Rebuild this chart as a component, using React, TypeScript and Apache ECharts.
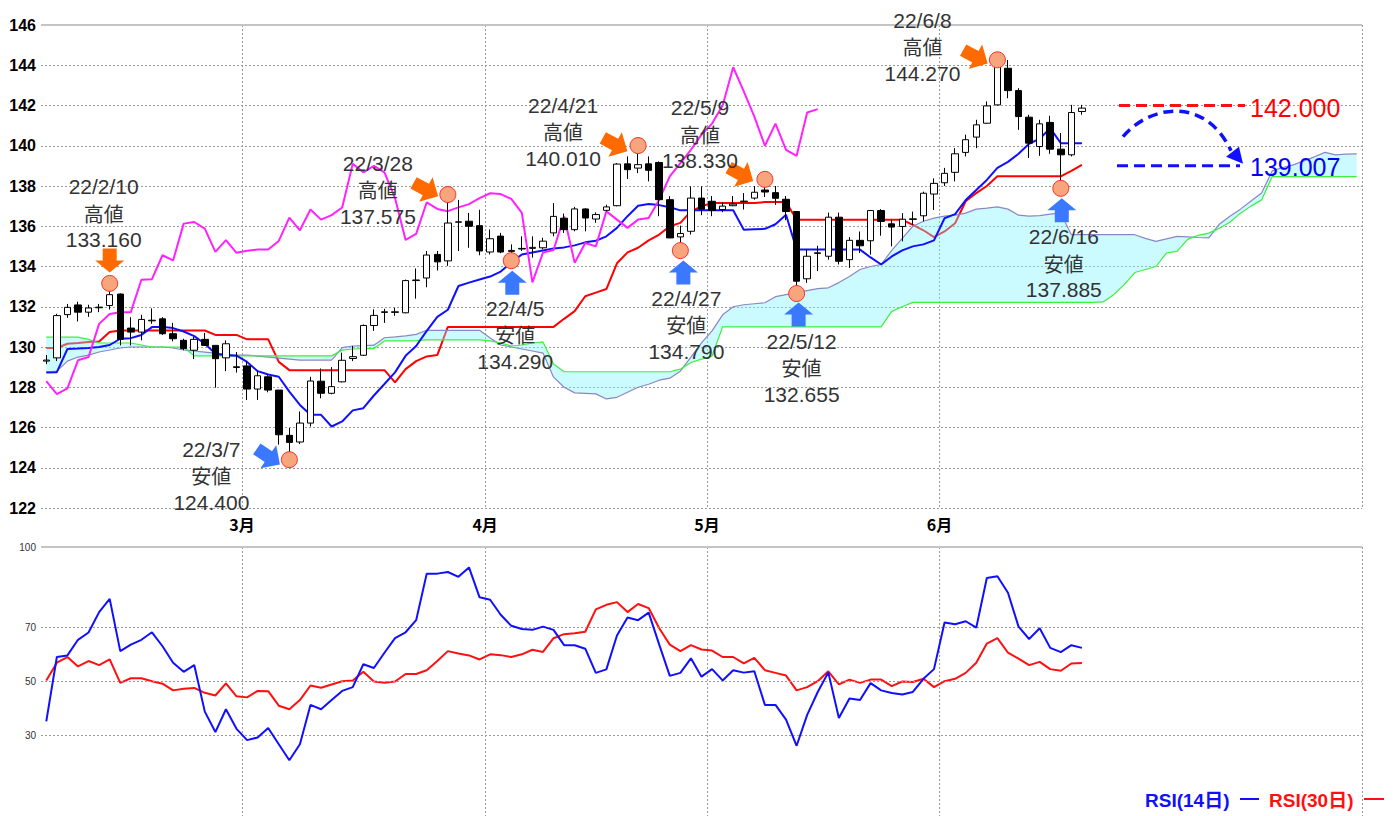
import React, { useEffect, useRef } from 'react';
import * as echarts from 'echarts';

// ---------- categories ----------
const dates = [
  '2/2','2/3','2/4','2/7','2/8','2/9','2/10','2/11','2/14','2/15','2/16','2/17','2/18','2/21','2/22','2/23','2/24','2/25','2/28',
  '3/1','3/2','3/3','3/4','3/7','3/8','3/9','3/10','3/11','3/14','3/15','3/16','3/17','3/18','3/21','3/22','3/23','3/24','3/25','3/28','3/29','3/30','3/31',
  '4/1','4/4','4/5','4/6','4/7','4/8','4/11','4/12','4/13','4/14','4/15','4/18','4/19','4/20','4/21','4/22','4/25','4/26','4/27','4/28','4/29',
  '5/2','5/3','5/4','5/5','5/6','5/9','5/10','5/11','5/12','5/13','5/16','5/17','5/18','5/19','5/20','5/23','5/24','5/25','5/26','5/27','5/30','5/31',
  '6/1','6/2','6/3','6/6','6/7','6/8','6/9','6/10','6/13','6/14','6/15','6/16','6/17','6/20',
];
const futureDates = [
  '6/21','6/22','6/23','6/24','6/27','6/28','6/29','6/30','7/1','7/4','7/5','7/6','7/7','7/8',
  '7/11','7/12','7/13','7/14','7/15','7/18','7/19','7/20','7/21','7/22','7/25','7/26',
];
const monthTicks = ['3/1', '4/1', '5/2', '6/1'];
const monthLabels = ['3月', '4月', '5月', '6月'];
const priceMin = 122;
const priceMax = 146;
const priceStep = 2;
const rsiTicks = [30, 50, 70, 100];

// ---------- candles: [open, close, low, high] ----------
const candles = [
  [129.3,129.35,129.15,129.6],[129.46,131.56,129.3,131.65],[131.61,131.97,131.45,132.14],[132.09,131.73,131.27,132.25],
  [131.73,131.94,131.5,132.1],[131.95,131.98,131.73,132.14],[132.06,132.6,131.86,133.16],[132.63,130.38,130.08,132.66],
  [130.94,130.74,130.08,131.48],[130.74,131.37,130.33,131.6],[131.3,131.33,131.15,131.92],[131.4,130.66,130.6,131.48],
  [130.66,130.41,130.28,131.2],[130.33,129.92,129.84,130.41],[129.84,130.38,129.4,130.5],[130.38,130.08,130.05,130.7],
  [130.08,129.42,127.98,130.1],[129.46,130.16,128.8,130.33],[128.98,129.02,128.73,129.75],
  [129.06,127.91,127.37,129.29],[127.91,128.57,127.37,128.8],[128.52,127.86,127.75,128.6],[127.86,125.64,125.15,127.86],
  [125.61,125.26,124.4,125.97],[125.28,126.22,125.18,126.8],[126.22,128.31,126.05,128.52],[128.3,127.7,127.45,128.93],
  [127.7,128.03,127.65,129.0],[128.27,129.34,128.24,129.72],[129.43,129.52,129.3,130.05],[129.59,131.07,129.56,131.12],
  [131.07,131.57,130.8,131.87],[131.72,131.75,131.2,131.9],[131.72,131.75,131.55,131.95],[131.7,133.3,131.68,133.35],
  [133.3,133.33,132.4,133.9],[133.43,134.57,132.97,134.77],[134.6,134.23,133.8,134.77],[134.28,136.16,134.03,137.575],
  [136.2,136.22,134.77,137.31],[136.25,136.0,134.93,136.66],[136.03,134.77,134.56,136.82],
  [134.72,135.38,134.6,135.84],[135.51,134.72,134.66,135.67],[134.75,134.8,134.29,135.1],[134.87,134.9,134.77,135.5],
  [134.9,134.95,134.44,135.5],[134.93,135.26,134.85,135.43],[135.67,136.49,135.5,137.15],[136.4,135.83,135.67,136.63],
  [135.83,136.86,135.75,136.96],[136.86,136.41,135.75,136.9],[136.36,136.58,136.17,136.69],[136.79,136.96,136.74,137.07],
  [137.02,139.09,136.99,139.14],[139.1,138.81,138.35,139.47],[138.89,139.06,138.64,140.01],[139.1,138.78,138.23,139.47],
  [139.17,137.32,136.5,139.22],[137.32,135.42,135.42,137.49],[135.47,135.64,134.79,136.03],[135.75,137.4,135.59,137.98],
  [137.4,136.85,136.55,137.98],
  [137.24,136.79,136.5,137.5],[136.83,137.0,136.7,137.2],[137.02,137.1,137.0,137.5],[137.22,137.25,136.83,137.65],
  [137.4,137.69,137.32,138.0],[137.8,137.7,137.45,138.33],[137.67,137.39,137.06,138.0],[137.34,136.73,136.3,137.5],
  [136.73,133.27,132.655,136.75],[133.39,134.51,133.19,134.84],[134.65,134.68,133.77,135.03],[134.51,136.45,134.34,136.68],
  [136.45,134.26,134.1,136.68],[134.34,135.3,133.93,135.46],[135.3,135.03,134.67,135.74],[135.28,136.78,134.59,136.81],
  [136.78,136.24,135.53,136.85],[136.12,135.96,135.0,136.32],[135.99,136.35,135.25,136.65],[136.34,136.37,136.07,136.73],
  [136.52,137.64,136.24,137.72],[137.6,138.13,136.81,138.38],
  [138.16,138.63,138.0,138.9],[138.68,139.6,138.23,139.88],[139.67,140.3,139.47,140.55],[140.43,141.04,139.88,141.29],
  [141.12,141.98,141.1,142.2],[142.03,144.1,142.0,144.27],[143.85,142.74,142.36,144.26],[142.74,141.45,140.79,142.86],
  [141.42,140.13,139.39,141.54],[139.96,141.09,139.5,141.29],[141.16,139.83,139.6,141.49],[139.83,139.55,137.885,140.63],
  [139.55,141.65,139.47,142.03],[141.7,141.87,141.54,142.03],
];

// ---------- ichimoku lines ----------
const tenkan = [
  128.73,128.75,129.9,129.92,129.95,130.0,130.1,130.41,130.44,130.6,
  130.99,131.0,130.94,130.77,130.54,130.16,129.67,129.59,129.57,129.26,
  128.8,128.63,128.52,127.78,127.12,126.63,126.63,126.05,126.3,126.85,
  126.96,127.59,128.16,128.74,129.56,130.05,130.8,131.5,131.85,133.03,
  133.2,133.35,133.5,133.75,134.2,134.6,134.7,134.8,134.9,134.95,
  135.05,135.2,135.28,135.5,135.92,136.5,137.02,137.1,137.05,136.94,
  136.79,136.79,136.79,136.79,136.79,136.79,135.83,135.85,135.87,136.1,
  136.57,134.84,134.84,134.84,134.84,134.84,134.84,134.84,134.45,134.1,
  134.5,134.8,135.0,135.1,135.3,136.4,136.6,137.3,137.8,138.3,
  138.9,139.2,139.6,140.1,140.35,140.87,140.13,140.13,140.13,
];
const kijun = [
  129.95,129.95,130.16,130.2,130.25,130.27,130.74,130.82,130.82,130.82,
  130.82,130.82,130.82,130.82,130.82,130.82,130.6,130.6,130.6,130.38,
  130.38,130.38,129.26,128.85,128.85,128.85,128.85,128.85,128.85,128.85,
  128.85,128.85,128.85,128.24,128.9,129.3,129.53,129.6,131.0,131.0,
  131.0,131.0,131.0,131.0,131.0,131.0,131.0,131.0,131.0,131.4,
  131.78,132.52,132.7,132.88,134.16,134.7,134.93,135.3,135.59,136.0,
  136.17,136.74,136.99,137.16,137.16,137.16,137.16,137.16,137.2,137.2,
  137.2,136.32,136.32,136.32,136.32,136.32,136.32,136.32,136.32,136.32,
  136.32,136.32,136.07,135.8,135.46,135.74,136.15,137.24,137.65,138.0,
  138.48,138.48,138.48,138.48,138.48,138.48,138.48,138.75,139.05,
];
const chikou = [
  128.3,127.66,127.94,129.34,129.5,131.15,131.64,131.73,131.73,133.34,
  133.37,134.56,134.3,136.13,136.21,135.88,134.73,135.31,134.68,134.78,
  134.84,134.84,135.27,136.43,135.8,136.83,136.33,136.55,136.93,139.1,
  138.68,139.0,138.68,137.4,135.32,135.62,137.19,136.86,136.75,136.94,
  137.1,137.4,137.64,137.6,137.36,136.66,133.21,134.69,134.82,136.49,
  134.18,135.17,135.0,136.74,136.33,135.92,136.33,136.41,137.32,138.48,
  139.14,139.8,140.55,141.1,142.0,143.9,142.7,141.45,140.0,141.1,
  139.8,139.5,141.65,141.82,
];
const spanA = [
  128.75,128.8,129.3,129.5,129.6,129.75,129.85,129.95,130.0,130.0,
  130.0,130.0,129.95,129.85,129.8,129.75,129.7,129.65,129.6,129.6,
  129.55,129.5,129.45,129.4,129.35,129.35,129.35,129.35,129.97,130.05,
  130.07,130.09,130.46,130.5,130.55,130.63,130.83,130.83,130.83,130.83,
  130.83,130.83,130.45,130.1,130.0,129.9,129.8,129.7,128.5,128.0,
  127.72,127.7,127.67,127.42,127.5,127.75,128.0,128.15,128.35,128.45,
  128.8,129.5,130.2,130.8,131.6,132.0,132.1,132.15,132.2,132.5,
  132.6,132.7,132.8,132.9,132.94,133.2,133.5,133.85,134.0,134.1,
  134.8,135.4,136.0,136.25,136.4,136.5,136.55,136.65,136.85,136.9,
  136.96,136.85,136.55,136.5,136.53,136.6,136.65,135.58,135.58,135.58,
  135.58,135.58,135.58,135.58,135.4,135.25,135.37,135.5,135.47,135.44,
  135.42,136.1,136.5,136.85,137.25,137.65,138.75,138.92,139.05,139.25,
  139.45,139.67,139.55,139.58,139.6,
];
const spanB = [
  130.49,130.49,130.49,130.49,130.38,130.2,130.2,130.2,130.2,130.1,
  130.0,130.0,130.0,130.0,129.56,129.56,129.56,129.56,129.56,129.56,
  129.56,129.56,129.56,129.56,129.56,129.56,129.56,129.56,129.84,129.9,
  129.92,129.92,130.3,130.3,130.3,130.32,130.35,130.35,130.35,130.35,
  130.35,130.35,130.3,130.2,130.05,130.1,130.2,130.25,129.15,128.77,
  128.77,128.77,128.77,128.77,128.77,128.77,128.77,128.77,128.77,128.77,
  128.9,129.23,129.4,129.55,131.0,131.0,131.0,131.0,131.0,131.0,
  131.0,131.0,131.0,131.0,131.0,131.0,131.0,131.0,131.0,131.0,
  131.77,132.0,132.22,132.22,132.22,132.22,132.22,132.22,132.22,132.22,
  132.22,132.22,132.22,132.22,132.22,132.22,132.22,132.22,132.22,132.22,
  132.24,132.6,133.1,133.7,133.85,134.0,134.67,134.75,135.35,135.55,
  135.66,135.9,136.2,136.65,137.0,137.31,138.47,138.47,138.47,138.47,
  138.47,138.47,138.47,138.47,138.47,
];

// ---------- RSI ----------
const rsi14 = [
  35.2,59.1,59.7,65.5,68.2,75.8,80.7,61.3,63.7,65.5,
  68.3,63.1,57.0,53.6,56.1,38.8,31.2,39.7,32.4,28.2,
  29.2,32.7,26.7,20.7,26.7,41.3,39.7,43.1,46.5,47.9,
  56.4,55.0,60.7,66.1,68.3,72.8,90.1,90.1,90.7,88.9,
  92.4,81.3,80.4,74.8,70.7,69.5,69.2,70.4,69.2,63.5,
  63.5,62.2,53.2,54.5,67.1,73.8,72.8,75.6,63.7,52.1,
  53.2,58.6,51.8,54.6,50.4,54.2,53.3,53.8,41.3,41.3,
  35.8,26.1,37.6,46.1,53.4,36.4,43.7,43.1,49.4,46.7,
  45.7,45.2,46.1,51.0,54.6,71.9,71.3,72.4,70.0,88.5,
  89.1,83.0,70.4,65.8,69.8,62.5,60.9,63.5,62.5,
];
const rsi30 = [
  50.4,57.0,59.1,55.6,57.6,56.1,58.2,49.5,51.2,51.2,
  50.1,49.2,46.7,47.3,47.6,45.8,44.8,49.3,44.5,44.1,
  46.5,46.4,41.0,39.7,43.1,48.5,47.7,48.9,50.1,50.4,
  53.6,50.0,49.5,50.0,52.8,52.8,54.2,57.6,61.3,60.4,
  59.7,58.2,60.1,59.8,59.1,60.1,61.8,61.0,66.1,67.6,
  67.9,68.5,76.8,78.5,79.5,75.8,78.8,77.3,69.8,63.7,
  61.3,63.5,61.9,61.5,59.1,59.1,56.7,58.8,54.2,53.2,
  52.2,46.7,47.9,50.1,53.8,48.9,50.7,49.5,50.7,50.7,
  48.3,50.0,49.8,51.0,47.9,50.1,51.0,53.2,57.0,64.1,
  66.1,60.7,58.5,56.1,57.3,54.6,54.0,56.7,56.9,
];

// ---------- annotations ----------
const peakMarks = [
  { date: '2/10', price: 133.16, day: '22/2/10', kind: '高値', text: '133.160' },
  { date: '3/7', price: 124.4, day: '22/3/7', kind: '安値', text: '124.400' },
  { date: '3/28', price: 137.575, day: '22/3/28', kind: '高値', text: '137.575' },
  { date: '4/5', price: 134.29, day: '22/4/5', kind: '安値', text: '134.290' },
  { date: '4/21', price: 140.01, day: '22/4/21', kind: '高値', text: '140.010' },
  { date: '4/27', price: 134.79, day: '22/4/27', kind: '安値', text: '134.790' },
  { date: '5/9', price: 138.33, day: '22/5/9', kind: '高値', text: '138.330' },
  { date: '5/12', price: 132.655, day: '22/5/12', kind: '安値', text: '132.655' },
  { date: '6/8', price: 144.27, day: '22/6/8', kind: '高値', text: '144.270' },
  { date: '6/16', price: 137.885, day: '22/6/16', kind: '安値', text: '137.885' },
];
const markLayout = [
  { tx: -6, ty: -70, ax: 0, ay: -23, dir: 'down' },
  { tx: -78, ty: 16, ax: -21, ay: -3, dir: 'diag' },
  { tx: -70, ty: -5, ax: -22, ay: -5, dir: 'diag' },
  { tx: 4, ty: 74, ax: 1, ay: 22, dir: 'up' },
  { tx: -75, ty: -14, ax: -23, ay: -1, dir: 'diag' },
  { tx: 6, ty: 74, ax: 3, ay: 22, dir: 'up' },
  { tx: -65, ty: -45, ax: -24, ay: -5, dir: 'diag' },
  { tx: 5, ty: 74, ax: 2, ay: 21, dir: 'up' },
  { tx: -75, ty: -13, ax: -22, ay: -3, dir: 'diag' },
  { tx: 3, ty: 75, ax: 1, ay: 22, dir: 'up' },
];
const targetHigh = 142.0;
const targetLow = 139.007;

function arrowPts(cx: number, cy: number, ang: number, L: number, headLen: number, headW: number, shaftW: number) {
  const pts = [
    [-L / 2, -shaftW / 2], [L / 2 - headLen, -shaftW / 2], [L / 2 - headLen, -headW / 2], [L / 2, 0],
    [L / 2 - headLen, headW / 2], [L / 2 - headLen, shaftW / 2], [-L / 2, shaftW / 2],
  ];
  const c = Math.cos(ang), s = Math.sin(ang);
  return pts.map(([x, y]) => [cx + x * c - y * s, cy + x * s + y * c]);
}

const JP = '"Noto Sans CJK JP", sans-serif';
const SANS = '"Liberation Sans", Arial, "Noto Sans CJK JP", sans-serif';

function txt(x: number, y: number, text: string, fill: string, font: string, align = 'center') {
  return {
    type: 'text', x, y, z: 101,
    style: { text, fill, font, align, verticalAlign: 'middle', textAlign: align, textVerticalAlign: 'middle' },
  };
}

export default function App() {
  const ref = useRef<HTMLDivElement>(null);
  useEffect(() => {
    document.body.style.margin = '0';
    const chart = echarts.init(ref.current!, null, { renderer: 'svg' });
    const cats = [...dates, ...futureDates];
    const cloudBase = spanA.map((a, i) => Math.min(a, spanB[i]));
    const cloudBand = spanA.map((a, i) => +(Math.abs(a - spanB[i])).toFixed(3));
    const isMonth = (_i: number, v: string) => monthTicks.indexOf(v) >= 0;
    const gridLine = { color: '#9a9a9a', type: [2, 2] as any, width: 1 };
    const lineS = (name: string, data: number[], color: string, width: number, z: number, xi = 0) => ({
      name, type: 'line', data, xAxisIndex: xi, yAxisIndex: xi, symbol: 'none', showSymbol: false,
      lineStyle: { color, width }, z, silent: true,
    });

    chart.setOption({
      animation: false,
      grid: [
        { left: 41, right: 34, top: 25, height: 483 },
        { left: 41, right: 34, top: 547, height: 274 },
      ],
      xAxis: [
        {
          type: 'category', data: cats, gridIndex: 0, boundaryGap: true,
          axisLine: { show: false }, axisTick: { show: false },
          axisLabel: {
            interval: isMonth, formatter: (v: string) => monthLabels[monthTicks.indexOf(v)] || '',
            fontWeight: 'bold', fontSize: 16, color: '#000', margin: 8, fontFamily: JP, padding: [0, 10, 0, 0],
          },
          splitLine: { show: true, interval: isMonth, lineStyle: gridLine },
        },
        {
          type: 'category', data: cats, gridIndex: 1, boundaryGap: true,
          axisLine: { show: false }, axisTick: { show: false }, axisLabel: { show: false },
          splitLine: { show: true, interval: isMonth, lineStyle: gridLine },
        },
      ],
      yAxis: [
        {
          type: 'value', gridIndex: 0, min: priceMin, max: priceMax, interval: priceStep,
          axisLine: { show: false }, axisTick: { show: false },
          axisLabel: { fontWeight: 'bold', fontSize: 16, color: '#000', margin: 5, fontFamily: SANS },
          splitLine: { show: true, lineStyle: gridLine },
        },
        {
          type: 'value', gridIndex: 1, min: 0, max: 100, interval: 10,
          axisLine: { show: false }, axisTick: { show: false },
          axisLabel: {
            formatter: (v: number) => (rsiTicks.indexOf(v) >= 0 ? String(v) : ''),
            fontSize: 10, color: '#333', margin: 5, fontFamily: SANS,
          },
          splitLine: { show: false },
        },
      ],
      series: [
        lineS('kijun', kijun, '#ff0000', 2, 2),
        {
          name: 'cloudBase', type: 'line', stack: 'cloud', data: cloudBase, symbol: 'none',
          lineStyle: { opacity: 0 }, z: 3, silent: true,
        },
        {
          name: 'cloud', type: 'line', stack: 'cloud', data: cloudBand, symbol: 'none',
          lineStyle: { opacity: 0 }, areaStyle: { color: 'rgba(128,246,255,0.4)', opacity: 1 }, z: 3, silent: true,
        },
        lineS('spanA', spanA, '#8c86c4', 1.2, 4),
        lineS('spanB', spanB, '#3cf03c', 1.2, 4),
        lineS('tenkan', tenkan, '#1010ff', 2, 5),
        lineS('chikou', chikou, '#ff22ff', 2, 5),
        {
          name: 'candle', type: 'candlestick', data: candles, barWidth: 7, z: 6, silent: true,
          itemStyle: { color: '#ffffff', color0: '#000000', borderColor: '#000000', borderColor0: '#000000', borderWidth: 1 },
          markLine: {
            silent: true, symbol: ['none', 'none'], label: { show: false },
            data: [{ yAxis: priceMax, lineStyle: { color: '#c4c4c4', width: 2, type: 'solid' } }],
          },
        },
        {
          ...lineS('RSI(14日)', rsi14, '#1010ff', 2, 5, 1),
          markLine: {
            silent: true, symbol: ['none', 'none'], label: { show: false },
            data: [
              { yAxis: 100, lineStyle: { color: '#c4c4c4', width: 2, type: 'solid' } },
              { yAxis: 70, lineStyle: gridLine },
              { yAxis: 50, lineStyle: gridLine },
              { yAxis: 30, lineStyle: gridLine },
            ],
          },
        },
        lineS('RSI(30日)', rsi30, '#ff1010', 2, 4, 1),
      ],
    });

    const g: any[] = [];
    peakMarks.forEach((m, k) => {
      const L = markLayout[k];
      const p = chart.convertToPixel({ gridIndex: 0 }, [cats.indexOf(m.date), m.price]) as number[];
      const cx = p[0], cy = p[1];
      const high = m.kind === '高値';
      const color = high ? '#ff6a00' : '#3a78ff';
      const ang = L.dir === 'down' ? Math.PI / 2 : L.dir === 'up' ? -Math.PI / 2 : (high ? 0.5 : 0.6);
      const pts = L.dir === 'diag' ? arrowPts(cx + L.ax, cy + L.ay, ang, 28, 14, 28, 13) : arrowPts(cx + L.ax, cy + L.ay, ang, 24, 12, 29, 14);
      g.push({ type: 'polygon', shape: { points: pts }, style: { fill: color }, z: 100 });
      g.push({ type: 'circle', shape: { cx, cy, r: 8 }, style: { fill: '#f7a57c', stroke: '#ff2a2a', lineWidth: 1 }, z: 101 });
      const tx = cx + L.tx, ty = cy + L.ty;
      g.push(txt(tx, ty - 26.5, m.day, '#333', `21px ${SANS}`));
      g.push(txt(tx, ty, m.kind, '#333', `20px ${JP}`));
      g.push(txt(tx, ty + 26.5, m.text, '#333', `21px ${SANS}`));
    });

    const yH = (chart.convertToPixel({ gridIndex: 0 }, [0, targetHigh]) as number[])[1];
    const yL = (chart.convertToPixel({ gridIndex: 0 }, [0, targetLow]) as number[])[1];
    g.push({ type: 'line', shape: { x1: 1119, y1: yH, x2: 1245, y2: yH }, style: { stroke: '#ff1010', lineWidth: 3, lineDash: [11, 6] }, z: 100 });
    g.push({ type: 'line', shape: { x1: 1117, y1: yL, x2: 1240, y2: yL }, style: { stroke: '#1010ff', lineWidth: 3, lineDash: [11, 6] }, z: 100 });
    g.push(txt(1250, yH + 2, targetHigh.toFixed(3), '#ff0000', `25px ${SANS}`, 'left'));
    g.push(txt(1250, yL + 1, targetLow.toFixed(3), '#0000ff', `25px ${SANS}`, 'left'));
    g.push({
      type: 'bezierCurve', z: 100,
      shape: { x1: 1123, y1: yL - 29, cpx1: 1150, cpy1: yL - 61, cpx2: 1205, cpy2: yL - 70, x2: 1231, y2: yL - 15 },
      style: { stroke: '#1010ff', lineWidth: 3.5, lineDash: [10, 6], fill: null },
    });
    g.push({
      type: 'polygon', z: 100,
      shape: { points: [[1226, yL - 9], [1239, yL - 19], [1243, yL - 2]] },
      style: { fill: '#1010ff' },
    });

    // RSI legend
    const legY = 800;
    g.push(txt(1145, legY, 'RSI(14日)', '#1010ff', `bold 19px ${SANS}`, 'left'));
    g.push({ type: 'line', shape: { x1: 1240, y1: legY - 1, x2: 1259, y2: legY - 1 }, style: { stroke: '#1010ff', lineWidth: 2 }, z: 101 });
    g.push(txt(1269, legY, 'RSI(30日)', '#ff1010', `bold 19px ${SANS}`, 'left'));
    g.push({ type: 'line', shape: { x1: 1364, y1: legY - 1, x2: 1384, y2: legY - 1 }, style: { stroke: '#ff1010', lineWidth: 2 }, z: 101 });

    chart.setOption({ graphic: g });
    return () => chart.dispose();
  }, []);
  return <div ref={ref} style={{ width: 1396, height: 816 }} />;
}
